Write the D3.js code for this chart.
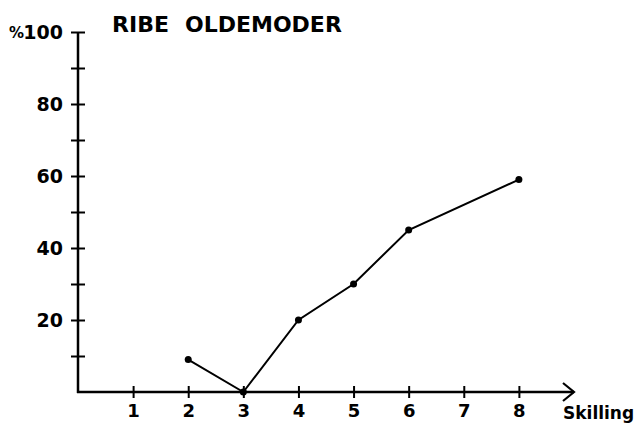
<!DOCTYPE html>
<html><head><meta charset="utf-8">
<script src="https://cdn.jsdelivr.net/npm/d3@7"></script>
<style>body{margin:0;background:#fff}svg{display:block}text{font-family:"DejaVu Sans",sans-serif;font-weight:bold;fill:#000}</style>
</head><body>
<script>
const titleParts = ["RIBE","OLDEMODER"];
const xTicks = [1,2,3,4,5,6,7,8];
const yMajor = [20,40,60,80,100];
const yMinor = [10,30,50,70,90];
const yLabels = ["20","40","60","80","100"];
const xs = [2,3,4,5,6,8];
const vals = [9,0,20,30,45,59];
const xLabel = "Skilling";

const W=638,H=425;
const svg=d3.select("body").append("svg").attr("width",W).attr("height",H);
const x=d3.scaleLinear().domain([0,9]).range([78,574]);
const y=d3.scaleLinear().domain([0,100]).range([392,32]);

// y axis
const yAx=d3.axisLeft(y).tickValues(yMajor.concat(yMinor)).tickSize(6).tickFormat(d=>{const i=yMajor.indexOf(d);return i<0?"":yLabels[i];});
const gy=svg.append("g").attr("transform",`translate(${x(0)},0)`).call(yAx);
gy.select(".domain").remove();
gy.selectAll(".tick line").attr("x1",-7).attr("x2",7).attr("stroke","#000").attr("stroke-width",2);
gy.selectAll(".tick text").attr("x",-15).attr("font-size",19).attr("font-family","DejaVu Sans").attr("font-weight","bold").attr("dy","0.36em");
svg.append("text").attr("x",9).attr("y",y(100)).attr("dy","0.38em").attr("font-size",15).text("%");
svg.append("line").attr("x1",x(0)).attr("x2",x(0)).attr("y1",y(100)).attr("y2",y(0)+1).attr("stroke","#000").attr("stroke-width",2.5);

// x axis
const xAx=d3.axisBottom(x).tickValues(xTicks).tickSize(6).tickFormat(d=>String(d));
const gx=svg.append("g").attr("transform",`translate(0,${y(0)})`).call(xAx);
gx.select(".domain").remove();
gx.selectAll(".tick line").attr("y1",-6).attr("y2",6).attr("stroke","#000").attr("stroke-width",2);
gx.selectAll(".tick text").attr("y",12).attr("font-size",18).attr("font-family","DejaVu Sans").attr("font-weight","bold").attr("dy","0.71em");
svg.append("line").attr("x1",x(0)-1).attr("x2",x(9)).attr("y1",y(0)).attr("y2",y(0)).attr("stroke","#000").attr("stroke-width",2.5);
svg.append("path").attr("d",`M${x(9)-11},${y(0)-9}L${x(9)},${y(0)}L${x(9)-11},${y(0)+9}`).attr("fill","none").attr("stroke","#000").attr("stroke-width",2.2);
svg.append("text").attr("x",x(9)-11).attr("y",y(0)+27).attr("font-size",17).text(xLabel);

// title
svg.append("text").attr("x",112).attr("y",32).attr("font-size",22).text(titleParts[0]);
svg.append("text").attr("x",185).attr("y",32).attr("font-size",22).text(titleParts[1]);

// data
const pts=xs.map((d,i)=>[d,vals[i]]);
const line=d3.line().x(d=>x(d[0])).y(d=>y(d[1]));
svg.append("path").datum(pts).attr("d",line).attr("fill","none").attr("stroke","#000").attr("stroke-width",2);
svg.selectAll("circle.pt").data(pts).enter().append("circle").attr("class","pt").attr("cx",d=>x(d[0])).attr("cy",d=>y(d[1])).attr("r",3.5).attr("fill","#000");
</script>
</body></html>
